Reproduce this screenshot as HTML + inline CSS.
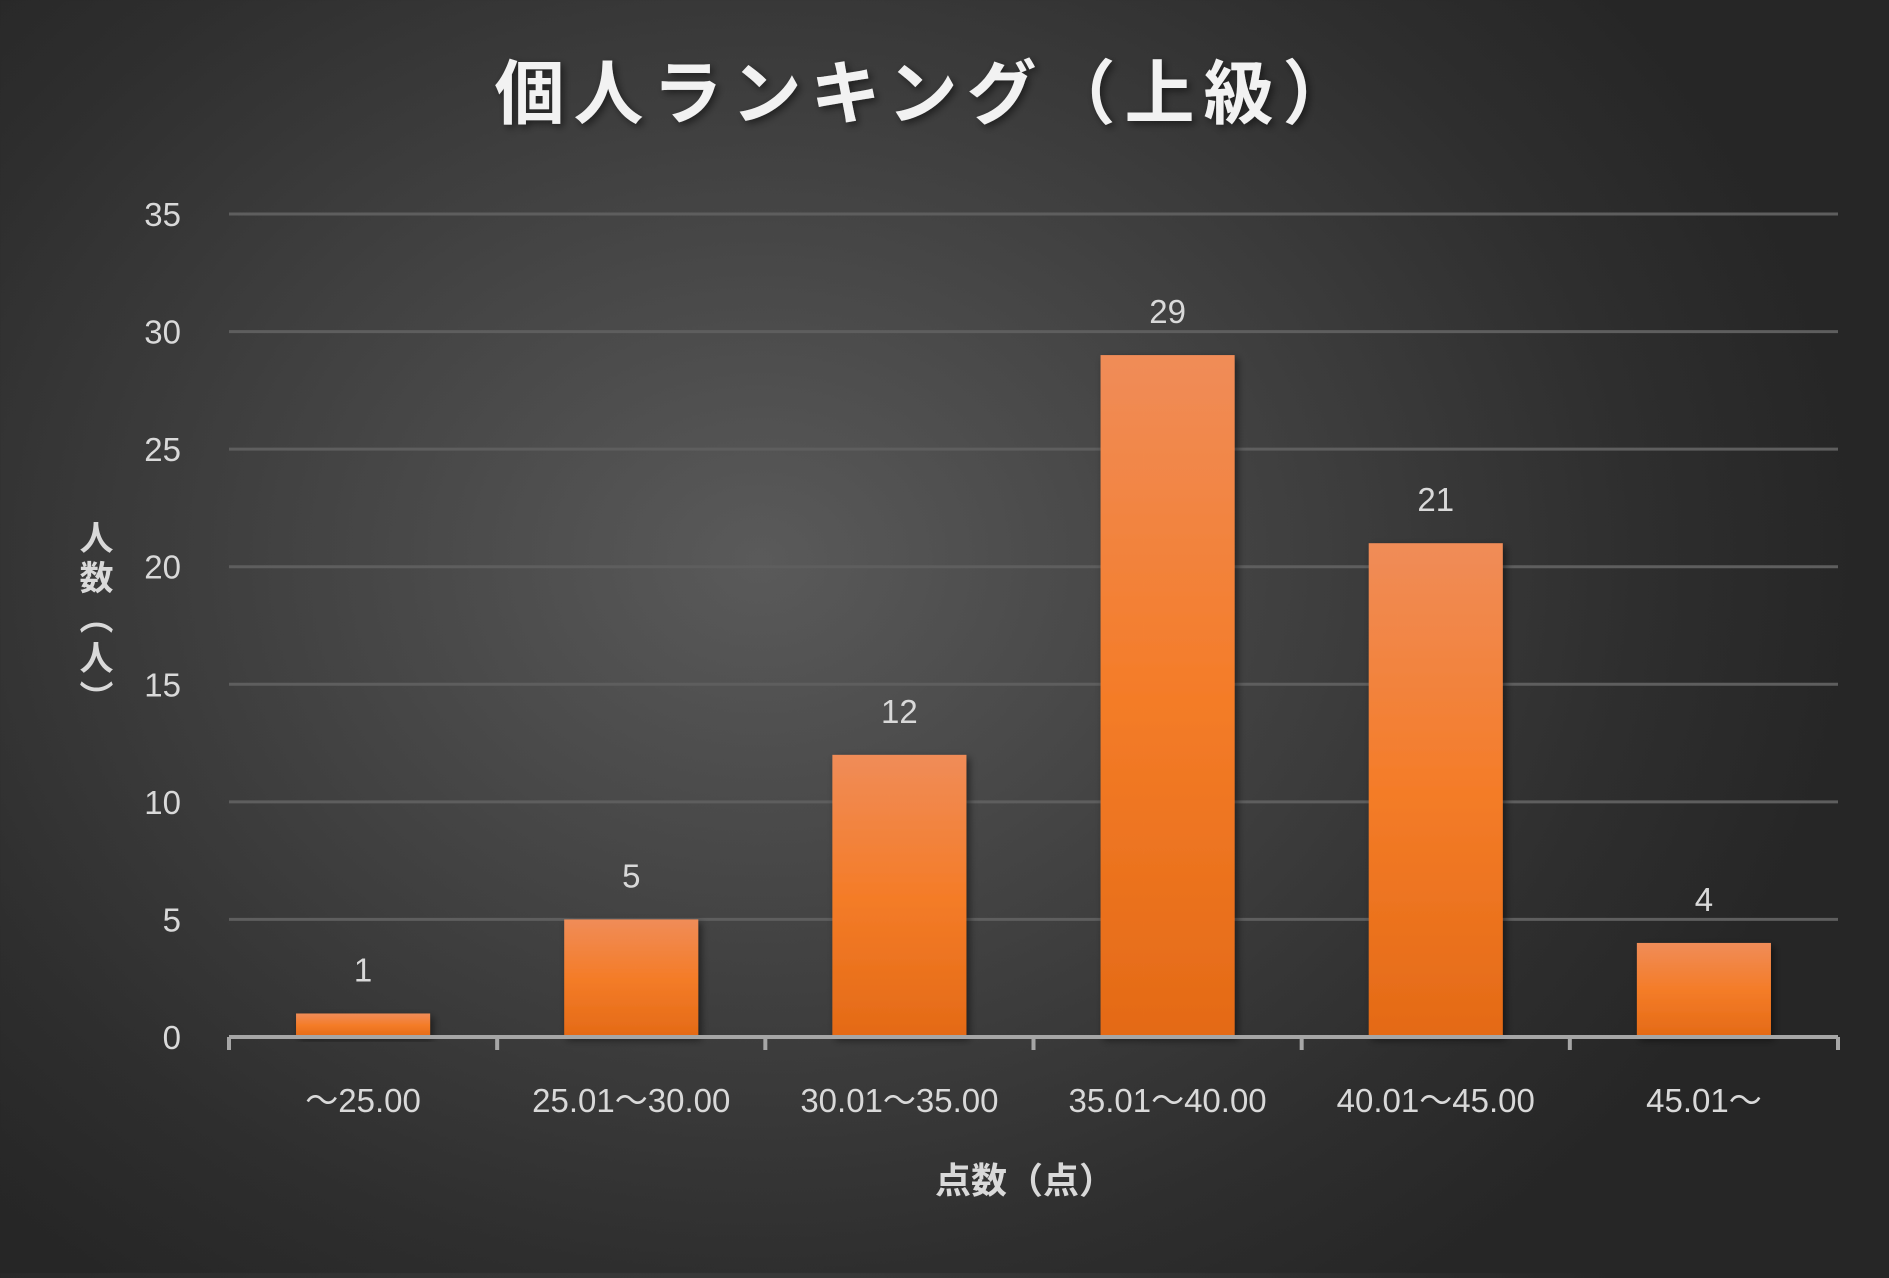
<!DOCTYPE html>
<html><head><meta charset="utf-8"><style>
html,body{margin:0;padding:0;}
body{width:1889px;height:1273px;overflow:hidden;background:radial-gradient(ellipse 1100px 900px at 760px 560px,#5a5a5a 0%,#444 40%,#2e2e2e 80%,#262626 100%);font-family:"Liberation Sans","Noto Sans CJK JP",sans-serif;}
svg text{font-family:"Liberation Sans","Noto Sans CJK JP",sans-serif;}
</style></head><body>
<svg id="chart" width="1889" height="1273" xmlns="http://www.w3.org/2000/svg">
<defs>
<linearGradient id="barg" x1="0" y1="0" x2="0" y2="1">
<stop offset="0" stop-color="#f08c58"/><stop offset="0.5" stop-color="#f47c28"/><stop offset="1" stop-color="#e46a16"/>
</linearGradient>
<filter id="sh" x="-20%" y="-20%" width="140%" height="140%"><feDropShadow dx="3" dy="3" stdDeviation="4" flood-color="#000" flood-opacity="0.5"/></filter>
</defs>
<text x="928" y="118" text-anchor="middle" font-size="70" font-weight="bold" fill="#f2f2f2" filter="url(#sh)" letter-spacing="9">個人ランキング（上級）</text>
<g id="grid"></g>
<g id="bars"></g>
<text x="93" y="620" font-size="34" font-weight="bold" fill="#d9d9d9" text-anchor="middle" letter-spacing="6" style="writing-mode:vertical-rl">人数（人）</text>
<text x="1025" y="1193" text-anchor="middle" font-size="36" font-weight="bold" fill="#d9d9d9">点数（点）</text>
</svg>
<script>
const categories=["～25.00","25.01～30.00","30.01～35.00","35.01～40.00","40.01～45.00","45.01～"];
const values=[1,5,12,29,21,4];
const yTicks=[0,5,10,15,20,25,30,35];
const NS="http://www.w3.org/2000/svg";
const L=229,R=1838,Y0=1037,Y35=214,YMAX=35;
const y=v=>Y0-(Y0-Y35)*v/YMAX;
const cw=(R-L)/categories.length;
const x=i=>L+cw*i;
function mk(t,a,p){const e=document.createElementNS(NS,t);for(const k in a)e.setAttribute(k,a[k]);p.appendChild(e);return e;}
const grid=document.getElementById('grid'),bars=document.getElementById('bars');
yTicks.forEach(v=>{
 if(v>0){const g=mk('line',{x1:L,x2:R,y1:y(v),y2:y(v),stroke:'#5e5e5e','stroke-width':3},grid);
 
 }
 const t=mk('text',{x:181,y:y(v)+12,'text-anchor':'end','font-size':33,fill:'#d9d9d9'},grid);
 t.textContent=v;
 
 
});
values.forEach((v,i)=>{
 const bw=cw*0.5,bx=x(i)+cw*0.25;
 const b=mk('rect',{x:bx,y:y(v),width:bw,height:Y0-y(v),fill:'url(#barg)',filter:'url(#sh)'},bars);
 
 
 const l=mk('text',{x:x(i)+cw/2,y:y(v)-32,'text-anchor':'middle','font-size':33,fill:'#d9d9d9'},bars);
 l.textContent=v;
 
 
 const c=mk('text',{x:x(i)+cw/2,y:1112,'text-anchor':'middle','font-size':33,fill:'#d9d9d9'},bars);
 c.textContent=categories[i];
 
 
});
const ax=mk('line',{x1:L,x2:R,y1:Y0,y2:Y0,stroke:'#a6a6a6','stroke-width':4},bars);


for(let i=0;i<=categories.length;i++){
 const tk=mk('line',{x1:x(i),x2:x(i),y1:Y0,y2:Y0+13,stroke:'#a6a6a6','stroke-width':4},bars);
 
 
}
</script>
</body></html>
